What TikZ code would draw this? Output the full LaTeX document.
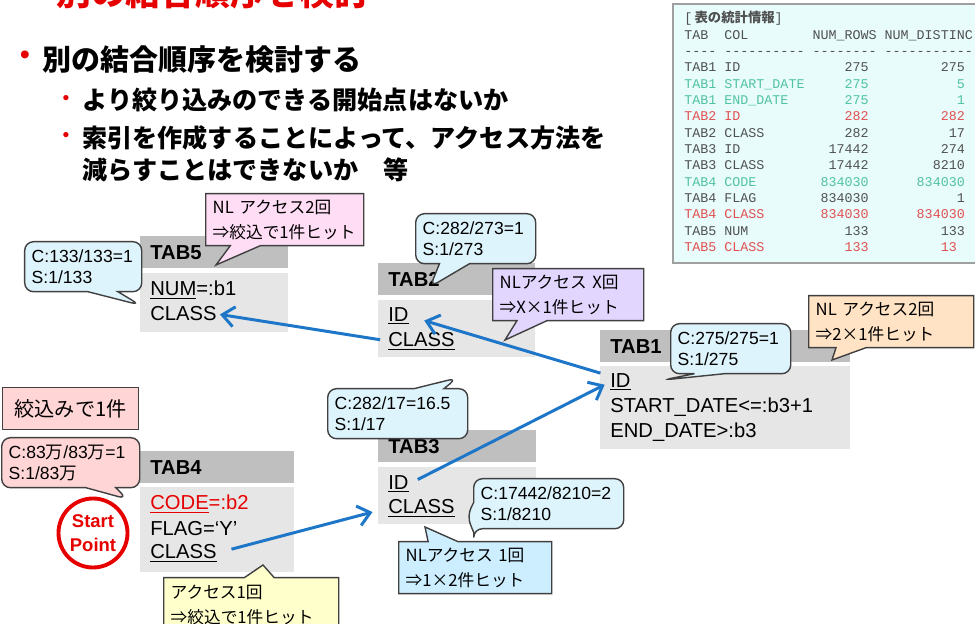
\documentclass[tikz,border=0pt]{standalone}
\usepackage{fontspec}
\setmainfont{Liberation Sans}
\setmonofont{Liberation Mono}
\newfontfamily\jp{Noto Sans CJK JP}
\usetikzlibrary{shapes.callouts, arrows.meta}
\definecolor{titleRed}{RGB}{230, 0, 0}
\definecolor{headGray}{RGB}{191, 191, 191}
\definecolor{bodyGray}{RGB}{230, 230, 230}
\definecolor{linkBlue}{RGB}{30, 118, 200}
\definecolor{tipEdge}{RGB}{64, 64, 64}
\definecolor{tipCyan}{RGB}{222, 244, 252}
\definecolor{tipPink}{RGB}{255, 221, 245}
\definecolor{tipLilac}{RGB}{226, 214, 255}
\definecolor{tipPeach}{RGB}{255, 227, 196}
\definecolor{tipRose}{RGB}{255, 213, 213}
\definecolor{tipYellow}{RGB}{255, 255, 204}
\definecolor{tipSky}{RGB}{204, 238, 255}
\definecolor{statFill}{RGB}{232, 252, 252}
\definecolor{statEdge}{RGB}{160, 160, 160}
\definecolor{statText}{RGB}{80, 80, 80}
\definecolor{statGreen}{RGB}{80, 195, 160}
\definecolor{statRed}{RGB}{225, 80, 80}
\newlength{\cw}
\setlength{\cw}{4.56pt}
\newcommand{\statrow}[4]{\makebox[5\cw][l]{#1}\makebox[11\cw][l]{#2}\makebox[7\cw][r]{#3}\makebox[12\cw][r]{#4}}

\begin{document}
\begin{tikzpicture}[
		tab_head/.style = {fill=headGray, anchor=north west, minimum height=0.64cm,
			inner xsep=0.2cm, inner ysep=0pt, text width=#1, align=left,
			font=\bfseries\fontsize{11.5}{13}\selectfont},
		tab_body/.style = {fill=bodyGray, anchor=north west, inner sep=0pt, minimum width=#1},
		field/.style    = {anchor=west, inner sep=0pt, font=\fontsize{11.5}{13}\selectfont},
		callbox/.style  = {rectangle callout, draw=tipEdge, line width=0.8pt, anchor=north west,
			align=left, inner xsep=0.14cm, minimum height=1.0cm, callout pointer width=0.6cm,
			font=\fontsize{10}{12}\selectfont},
		callround/.style = {callbox, rounded corners=5pt, fill=tipCyan},
		calljp/.style   = {callbox, minimum height=1.04cm, font=\jp\fontsize{9.5}{14.2}\selectfont},
		dot/.style      = {text=titleRed, inner sep=0pt},
		item/.style     = {anchor=west, inner sep=0pt, align=left},
		link/.style     = {draw=linkBlue, line width=1.7pt, -{Straight Barb[length=2.4mm, width=4mm]}}
		]
		\useasboundingbox (0,0) rectangle (19.5,-12.48);
		
		% heading and bullets
		\node[anchor=base west, text=titleRed, font=\jp\bfseries\fontsize{19.8}{24}\selectfont]
		(title) at (1.0,-0.12) {別の結合順序を検討};
		\node[dot, font=\fontsize{16.5}{20}\selectfont] (dot1) at (0.5,-1.16) {•};
		\node[item, font=\jp\bfseries\fontsize{16.5}{20}\selectfont] (item1) at (0.84,-1.2) {別の結合順序を検討する};
		\node[dot, font=\fontsize{11}{13}\selectfont] (dot2) at (1.32,-2.0) {•};
		\node[item, font=\jp\bfseries\fontsize{14.3}{18.2}\selectfont] (item2) at (1.64,-2.0) {より絞り込みのできる開始点はないか};
		\node[dot, font=\fontsize{11}{13}\selectfont] (dot3) at (1.32,-2.74) {•};
		\node[item, font=\jp\bfseries\fontsize{14.3}{18.2}\selectfont] (item3) at (1.64,-3.08)
		{索引を作成することによって、アクセス方法を\\減らすことはできないか　等};
		
		% statistics
		\node[draw=statEdge, line width=1pt, fill=statFill, anchor=north west,
		minimum width=6.2cm, minimum height=5.18cm] (statbox) at (13.44,-0.06) {};
		\node[anchor=north west, inner sep=0pt, align=left, text=statText,
		font=\ttfamily\fontsize{7.6}{9.3}\selectfont] (stats) at (13.68,-0.22) {%
			[\,{\jp\bfseries 表の統計情報}]\\
			\makebox[5\cw][l]{TAB}\makebox[11\cw][l]{COL}\makebox[9\cw][l]{NUM\_ROWS}NUM\_DISTINC\\
			\makebox[5\cw][l]{----}\makebox[11\cw][l]{----------}\makebox[9\cw][l]{--------}-----------\\
			\statrow{TAB1}{ID}{275}{275}\\
			\textcolor{statGreen}{\statrow{TAB1}{START\_DATE}{275}{5}}\\
			\textcolor{statGreen}{\statrow{TAB1}{END\_DATE}{275}{1}}\\
			\textcolor{statRed}{\statrow{TAB2}{ID}{282}{282}}\\
			\statrow{TAB2}{CLASS}{282}{17}\\
			\statrow{TAB3}{ID}{17442}{274}\\
			\statrow{TAB3}{CLASS}{17442}{8210}\\
			\textcolor{statGreen}{\statrow{TAB4}{CODE}{834030}{834030}}\\
			\statrow{TAB4}{FLAG}{834030}{1}\\
			\textcolor{statRed}{\statrow{TAB4}{CLASS}{834030}{834030}}\\
			\statrow{TAB5}{NUM}{133}{133}\\
			\textcolor{statRed}{\statrow{TAB5}{CLASS}{133}{13\hspace*{\cw}}}};
		
		% tables
		\node[tab_head=2.56cm] (t5h) at (2.8,-4.72) {TAB5};
		\node[tab_body=2.96cm, minimum height=1.18cm] (t5b) at (2.8,-5.46) {};
		\node[field] (t5num) at (3.0,-5.8) {\underline{NUM}=:b1};
		\node[field] (t5class) at (3.0,-6.28) {CLASS};
		
		\node[tab_head=2.74cm] (t2h) at (7.56,-5.26) {TAB2};
		\node[tab_body=3.14cm, minimum height=1.14cm] (t2b) at (7.56,-6.0) {};
		\node[field] (t2id) at (7.76,-6.32) {\underline{ID}};
		\node[field] (t2class) at (7.76,-6.82) {\underline{CLASS}};
		
		\node[tab_head=4.6cm] (t1h) at (12.0,-6.6) {TAB1};
		\node[tab_body=5.0cm, minimum height=1.66cm] (t1b) at (12.0,-7.32) {};
		\node[field] (t1id) at (12.2,-7.64) {\underline{ID}};
		\node[field] (t1start) at (12.2,-8.14) {START\_DATE<=:b3+1};
		\node[field] (t1end) at (12.2,-8.64) {END\_DATE>:b3};
		
		\node[tab_head=2.76cm] (t3h) at (7.56,-8.6) {TAB3};
		\node[tab_body=3.16cm, minimum height=1.14cm] (t3b) at (7.56,-9.34) {};
		\node[field] (t3id) at (7.76,-9.68) {\underline{ID}};
		\node[field] (t3class) at (7.76,-10.16) {\underline{CLASS}};
		
		\node[tab_head=2.68cm] (t4h) at (2.8,-9.02) {TAB4};
		\node[tab_body=3.08cm, minimum height=1.7cm] (t4b) at (2.8,-9.74) {};
		\node[field] (t4code) at (3.0,-10.08) {\textcolor{titleRed}{\underline{CODE}=:b2}};
		\node[field] (t4flag) at (3.0,-10.58) {FLAG=‘Y’};
		\node[field] (t4class) at (3.0,-11.06) {\underline{CLASS}};
		
		% join order
		\draw[link, shorten <=0.3cm, shorten >=0.32cm] (t4class.east) -- (t3class.west);
		\draw[link, shorten <=0.2cm, shorten >=0.12cm] (t3id.east) -- (t1id.west);
		\draw[link, shorten <=0.2cm, shorten >=0.32cm] ([yshift=0.12cm]t1id.west) -- (t2id.east);
		\draw[link, shorten <=0.16cm, shorten >=0.06cm] (t2class.west) -- (t5class.east);
		
		% notes
		\node[callround, text width=2.06cm, callout absolute pointer={(2.8,-6.1)}]
		(n5cost) at (0.48,-4.82) {C:133/133=1\\S:1/133};
		\node[calljp, fill=tipPink, text width=2.88cm, callout absolute pointer={(4.32,-5.3)}]
		(n5loop) at (4.1,-3.86) {NL アクセス2回\\⇒絞込で1件ヒット};
		\node[callround, text width=2.12cm, callout absolute pointer={(8.6,-5.74)}]
		(n2cost) at (8.3,-4.26) {C:282/273=1\\S:1/273};
		\node[calljp, fill=tipLilac, text width=2.74cm, callout absolute pointer={(10.1,-6.8)}]
		(n2loop) at (9.84,-5.36) {NLアクセス X回\\⇒X×1件ヒット};
		\node[callround, text width=2.12cm, callout absolute pointer={(13.26,-7.6)}]
		(n1cost) at (13.4,-6.46) {C:275/275=1\\S:1/275};
		\node[calljp, fill=tipPeach, text width=3.02cm, callout absolute pointer={(16.64,-7.2)}]
		(n1loop) at (16.16,-5.9) {NL アクセス2回\\⇒2×1件ヒット};
		\node[callround, text width=2.52cm, callout absolute pointer={(9.14,-7.56)}]
		(n3id) at (6.54,-7.76) {C:282/17=16.5\\S:1/17};
		\node[callround, text width=2.72cm, callout absolute pointer={(9.34,-10.32)}]
		(n3class) at (9.46,-9.56) {C:17442/8210=2\\S:1/8210};
		\node[calljp, fill=tipSky, text width=2.78cm, callout absolute pointer={(8.5,-10.54)}]
		(n3loop) at (7.96,-10.82) {NLアクセス 1回\\⇒1×2件ヒット};
		\node[draw=tipEdge, line width=0.8pt, fill=tipRose, anchor=north west, minimum width=2.72cm,
		minimum height=0.84cm, font=\jp\fontsize{11.5}{13}\selectfont] (narrow) at (0.04,-7.74) {絞込みで1件};
		\node[callround, fill=tipRose, text width=2.48cm, callout absolute pointer={(2.54,-9.98)}]
		(n4cost) at (0.02,-8.74) {C:83{\jp 万}/83{\jp 万}=1\\S:1/83{\jp 万}};
		\node[calljp, fill=tipYellow, minimum height=1.1cm, text width=3.22cm, callout absolute pointer={(5.26,-11.3)}]
		(n4loop) at (3.26,-11.54) {アクセス1回\\⇒絞込で1件ヒット};
		\node[circle, draw=titleRed, line width=2.2pt, fill=white, minimum size=1.38cm, inner sep=0pt,
		align=center, text=titleRed, font=\bfseries\fontsize{10.5}{13.7}\selectfont]
		(start) at (1.86,-10.66) {Start\\Point};
	\end{tikzpicture}
\end{document}
